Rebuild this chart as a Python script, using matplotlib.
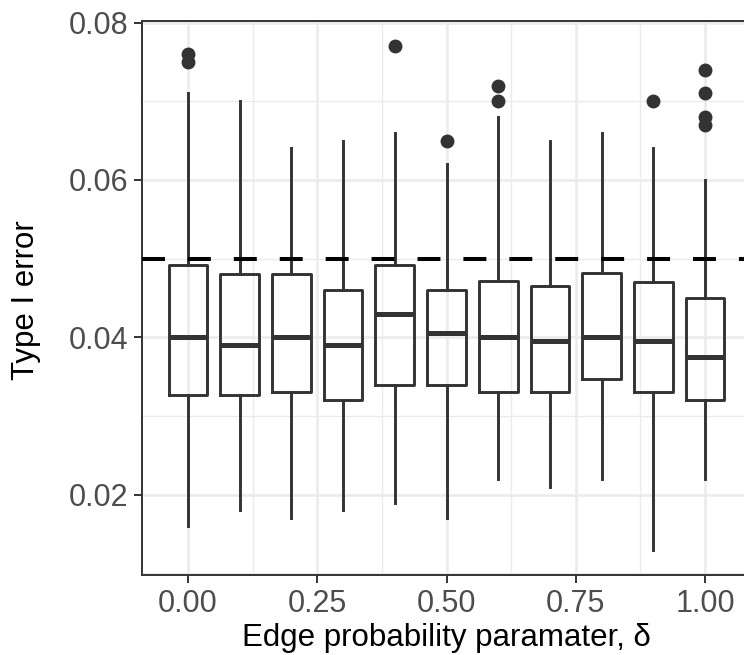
import matplotlib
matplotlib.use("Agg")
import matplotlib.pyplot as plt
from matplotlib.ticker import MultipleLocator

plt.rcParams['font.family'] = ['Liberation Sans', 'DejaVu Sans']

# ---- data ----
delta = [0.0, 0.1, 0.2, 0.3, 0.4, 0.5, 0.6, 0.7, 0.8, 0.9, 1.0]
q1 = [0.0327, 0.0327, 0.033, 0.032, 0.034, 0.034, 0.033, 0.033, 0.0347, 0.033, 0.032]
median = [0.040, 0.039, 0.040, 0.039, 0.043, 0.0405, 0.040, 0.0395, 0.040, 0.0395, 0.0375]
q3 = [0.0492, 0.048, 0.048, 0.046, 0.0492, 0.046, 0.0472, 0.0465, 0.0482, 0.047, 0.045]
whislo = [0.016, 0.018, 0.017, 0.018, 0.019, 0.017, 0.022, 0.021, 0.022, 0.013, 0.022]
whishi = [0.071, 0.070, 0.064, 0.065, 0.066, 0.062, 0.068, 0.065, 0.066, 0.064, 0.060]
outliers = [[0.076, 0.075], [], [], [], [0.077], [0.065], [0.072, 0.070],
            [], [], [0.070], [0.074, 0.071, 0.068, 0.067]]
nominal_level = 0.05
x_ticks = [0.00, 0.25, 0.50, 0.75, 1.00]
x_ticklabels = ["0.00", "0.25", "0.50", "0.75", "1.00"]
y_ticks = [0.02, 0.04, 0.06, 0.08]
y_ticklabels = ["0.02", "0.04", "0.06", "0.08"]

W, H = 744, 655
fig = plt.figure(figsize=(W / 100, H / 100), dpi=100)
left, right, top, bottom = 142, 751, 21, 575
ax = fig.add_axes([left / W, 1 - bottom / H, (right - left) / W, (bottom - top) / H])

dark = "#333333"
grid_c = "#EBEBEB"

stats = []
for i in range(len(delta)):
    stats.append(dict(med=median[i], q1=q1[i], q3=q3[i],
                      whislo=whislo[i], whishi=whishi[i], fliers=outliers[i]))

ax.bxp(stats, positions=delta, widths=0.075, showcaps=False,
       boxprops=dict(color=dark, linewidth=2.1),
       whiskerprops=dict(color=dark, linewidth=2.1),
       medianprops=dict(color=dark, linewidth=3.6, solid_capstyle='butt'),
       flierprops=dict(marker='o', markerfacecolor=dark, markeredgecolor=dark,
                       markersize=9, linestyle='none'),
       manage_ticks=False, zorder=3)

ax.axhline(nominal_level, color='black', linewidth=2.9,
           linestyle=(0, (5.7, 5.7)), dash_capstyle='butt', zorder=4)

ax.set_xlim(-0.089, 1.089)
ax.set_ylim(0.0098, 0.0802)

ax.set_xticks(x_ticks)
ax.set_xticklabels(x_ticklabels)
ax.set_yticks(y_ticks)
ax.set_yticklabels(y_ticklabels)
ax.xaxis.set_minor_locator(MultipleLocator(0.125))
ax.yaxis.set_minor_locator(MultipleLocator(0.01))

ax.grid(which='major', color=grid_c, linewidth=1.8, zorder=0)
ax.grid(which='minor', color=grid_c, linewidth=1.0, zorder=0)
ax.set_axisbelow(True)

ax.tick_params(which='major', length=5.8, width=1.4, color=dark,
               labelsize=22, labelcolor="#4D4D4D", pad=4)
ax.tick_params(which='minor', length=0)

for s in ax.spines.values():
    s.set_color(dark)
    s.set_linewidth(1.4)

fig.text(26 / W, 1 - 300 / H, "Type I error", rotation=90, ha='center', va='center',
         fontsize=22.5, color='black')
fig.text((left + right) / 2 / W, 1 - 646 / H, "Edge probability paramater, δ",
         ha='center', va='baseline', fontsize=22.5, color='black')

fig.savefig("out.png", dpi=100)
